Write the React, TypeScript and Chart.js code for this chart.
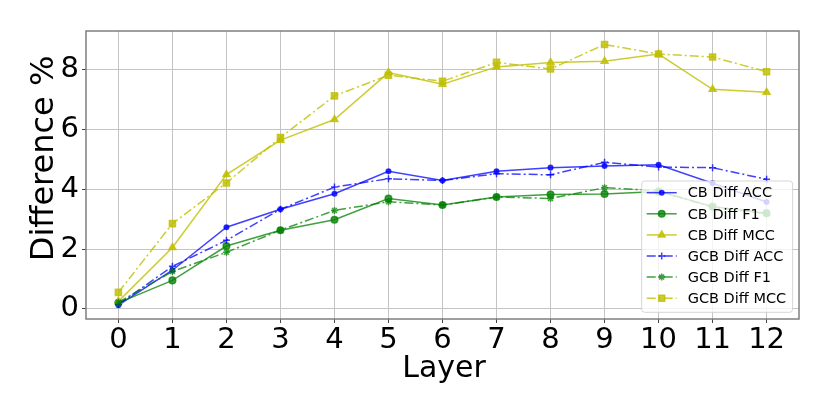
import React, { useEffect, useRef } from "react";
import { Chart, registerables } from "chart.js";
import { drawPoint } from "chart.js/helpers";

Chart.register(...registerables);

const LAYERS = [0, 1, 2, 3, 4, 5, 6, 7, 8, 9, 10, 11, 12];
const CB_ACC = [0.12, 1.29, 2.73, 3.33, 3.85, 4.6, 4.29, 4.6, 4.72, 4.78, 4.82, 4.2, 3.57];
const CB_F1 = [0.2, 0.95, 2.1, 2.63, 2.98, 3.69, 3.47, 3.74, 3.82, 3.84, 3.92, 3.42, 3.2];
const CB_MCC = [0.25, 2.05, 4.49, 5.64, 6.33, 7.9, 7.51, 8.09, 8.24, 8.28, 8.52, 7.34, 7.24];
const GCB_ACC = [0.15, 1.42, 2.29, 3.33, 4.07, 4.35, 4.29, 4.52, 4.48, 4.9, 4.74, 4.72, 4.33];
const GCB_F1 = [0.22, 1.25, 1.89, 2.63, 3.29, 3.58, 3.47, 3.74, 3.69, 4.05, 3.95, 3.4, 3.18];
const GCB_MCC = [0.55, 2.85, 4.21, 5.73, 7.12, 7.81, 7.61, 8.24, 8.02, 8.84, 8.52, 8.42, 7.93];

const X_TICKS = [0, 1, 2, 3, 4, 5, 6, 7, 8, 9, 10, 11, 12];
const Y_TICKS = [0, 2, 4, 6, 8];
const X_TITLE = "Layer";
const Y_TITLE = "Difference %";

const BLUE = "rgba(0,0,255,0.75)";
const GREEN = "rgba(0,128,0,0.75)";
const YELLOW = "rgba(191,191,0,0.8)";
const DASHDOT = [9, 3, 2, 3];
const FONT = "'DejaVu Sans', sans-serif";

const SERIES = [
  { label: "CB Diff ACC", data: CB_ACC, color: BLUE, style: "circle", r: 2.3, dash: [] as number[] },
  { label: "CB Diff F1", data: CB_F1, color: GREEN, style: "circle", r: 3.3, dash: [] as number[] },
  { label: "CB Diff MCC", data: CB_MCC, color: YELLOW, style: "triangle", r: 4, dash: [] as number[] },
  { label: "GCB Diff ACC", data: GCB_ACC, color: BLUE, style: "cross", r: 3.5, dash: DASHDOT },
  { label: "GCB Diff F1", data: GCB_F1, color: GREEN, style: "star", r: 3.5, dash: DASHDOT },
  { label: "GCB Diff MCC", data: GCB_MCC, color: YELLOW, style: "rect", r: 4.3, dash: DASHDOT },
];

const overlayPlugin = {
  id: "overlay",
  afterDraw(chart: any) {
    const ctx = chart.ctx;
    const a = chart.chartArea;
    ctx.save();
    // frame
    ctx.strokeStyle = "#7f7f7f";
    ctx.lineWidth = 1.5;
    ctx.strokeRect(a.left, a.top, a.right - a.left, a.bottom - a.top);
    // titles
    ctx.fillStyle = "#000";
    ctx.textAlign = "center";
    ctx.textBaseline = "alphabetic";
    ctx.font = `30px ${FONT}`;
    ctx.fillText(X_TITLE, 444, 377.3);
    ctx.save();
    ctx.font = `32px ${FONT}`;
    ctx.translate(53.3, 158.4);
    ctx.rotate(-Math.PI / 2);
    ctx.fillText(Y_TITLE, 0, 0);
    ctx.restore();
    // legend
    const boxR = a.right - 6.4;
    const boxL = 641.7;
    const boxB = a.bottom - 6.7;
    const boxT = 181;
    ctx.beginPath();
    const rr = 3;
    ctx.moveTo(boxL + rr, boxT);
    ctx.arcTo(boxR, boxT, boxR, boxB, rr);
    ctx.arcTo(boxR, boxB, boxL, boxB, rr);
    ctx.arcTo(boxL, boxB, boxL, boxT, rr);
    ctx.arcTo(boxL, boxT, boxR, boxT, rr);
    ctx.closePath();
    ctx.fillStyle = "rgba(255,255,255,0.8)";
    ctx.fill();
    ctx.strokeStyle = "rgba(204,204,204,0.8)";
    ctx.lineWidth = 1;
    ctx.stroke();
    ctx.font = `14.5px ${FONT}`;
    ctx.textAlign = "left";
    ctx.textBaseline = "middle";
    SERIES.forEach((s, i) => {
      const y = boxT + 11.7 + i * 21.1;
      ctx.strokeStyle = s.color;
      ctx.lineWidth = 1.5;
      ctx.setLineDash(s.dash);
      ctx.beginPath();
      ctx.moveTo(boxL + 5, y);
      ctx.lineTo(boxL + 35, y);
      ctx.stroke();
      ctx.setLineDash([]);
      ctx.fillStyle = s.color;
      drawPoint(ctx, { pointStyle: s.style, radius: s.r, borderWidth: 1.5, rotation: 0 }, boxL + 20, y);
      ctx.fillStyle = "#000";
      ctx.fillText(s.label, boxL + 46, y + 1);
    });
    ctx.restore();
  },
};

export default function App() {
  const ref = useRef<HTMLCanvasElement | null>(null);
  useEffect(() => {
    document.body.style.margin = "0";
    const canvas = ref.current!;
    const chart = new Chart(canvas, {
      type: "line",
      data: {
        datasets: SERIES.map((s, i) => ({
          label: s.label,
          data: LAYERS.map((x, j) => ({ x, y: s.data[j] })),
          borderColor: s.color,
          backgroundColor: s.color,
          borderWidth: 1.5,
          borderDash: s.dash,
          pointStyle: s.style as any,
          pointRadius: s.r,
          pointBorderWidth: 1.5,
          pointBorderColor: s.color,
          pointBackgroundColor: s.color,
          fill: false,
          tension: 0,
          order: 10 - i,
        })),
      },
      options: {
        animation: false,
        responsive: false,
        layout: { padding: { top: 31, right: 31, left: 0, bottom: 0 } },
        plugins: { legend: { display: false }, tooltip: { enabled: false } },
        scales: {
          x: {
            type: "linear",
            min: -0.6,
            max: 12.6,
            afterBuildTicks: (s: any) => {
              s.ticks = X_TICKS.map((v) => ({ value: v }));
            },
            afterFit: (s: any) => {
              s.height = 96;
            },
            grid: { color: "#c4c4c4", lineWidth: 1, tickLength: 4, tickColor: "#444", drawTicks: true },
            border: { display: false },
            ticks: {
              color: "#000",
              font: { family: FONT, size: 29 },
              padding: 0,
              maxRotation: 0,
              autoSkip: false,
              callback: (v: any) => String(v),
            },
          },
          y: {
            type: "linear",
            min: -0.34,
            max: 9.29,
            afterBuildTicks: (s: any) => {
              s.ticks = Y_TICKS.map((v) => ({ value: v }));
            },
            afterFit: (s: any) => {
              s.width = 86;
            },
            grid: { color: "#c4c4c4", lineWidth: 1, tickLength: 4, tickColor: "#444" },
            border: { display: false },
            ticks: {
              color: "#000",
              font: { family: FONT, size: 29 },
              padding: 3,
              autoSkip: false,
              callback: (v: any) => String(v),
            },
          },
        },
      },
      plugins: [overlayPlugin],
    });
    return () => chart.destroy();
  }, []);
  return (
    <div style={{ width: 830, height: 415 }}>
      <canvas ref={ref} width={830} height={415} style={{ display: "block", width: 830, height: 415 }} />
    </div>
  );
}
